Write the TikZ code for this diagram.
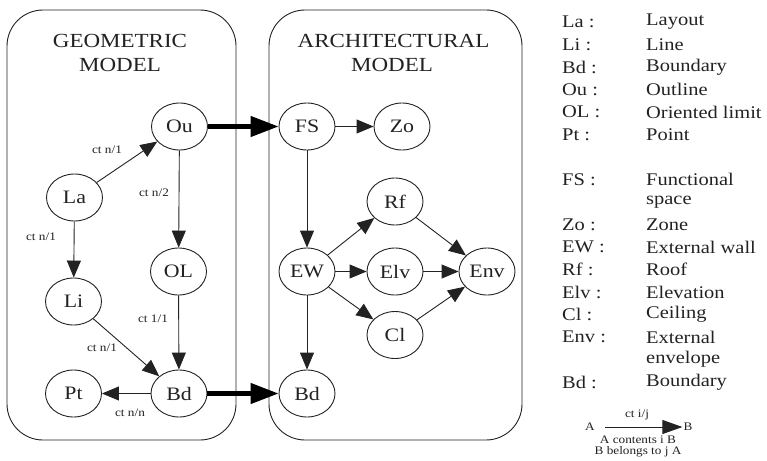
\documentclass[tikz,border=0pt]{standalone}
\usepackage{fontspec}
\setmainfont{Liberation Serif}[FakeStretch=1.15]
\usetikzlibrary{arrows.meta,shapes.geometric}
\definecolor{ink}{HTML}{222222}
\begin{document}
\begin{tikzpicture}[x=1pt,y=-1pt,
  ent/.style={ellipse,draw=ink,line width=0.9pt,minimum width=56pt,minimum height=47pt,inner sep=0pt,font=\fontsize{19}{22}\selectfont,text=ink},
  lnk/.style={draw=ink,line width=0.9pt,-{Triangle[length=17pt,width=14pt]}},
  big/.style={draw=black,line width=4.5pt,-{Triangle[length=28pt,width=20pt]}},
  smalllnk/.style={draw=ink,line width=0.9pt,-{Triangle[length=20pt,width=14pt]}},
  lbl/.style={font=\fontsize{11.5}{13}\selectfont,text=ink,inner sep=0pt},
  ttl/.style={font=\fontsize{20}{24}\selectfont,text=ink,inner sep=0pt},
  frame/.style={draw=ink,line width=0.9pt,rounded corners=36pt,inner sep=0pt},
  leg/.style={font=\fontsize{17.8}{21}\selectfont,text=ink,inner sep=0pt,anchor=west},
]
\useasboundingbox (0,0) rectangle (767,460);
% frames
\node[frame,minimum width=229pt,minimum height=430pt] (geo) at (121.5,225) {};
\node[frame,minimum width=253pt,minimum height=430pt] (arch) at (395.5,225) {};
% titles
\node[ttl] (t1) at (120,40.5) {GEOMETRIC};
\node[ttl] (t2) at (120,65) {MODEL};
\node[ttl] (t3) at (393.5,40.5) {ARCHITECTURAL};
\node[ttl] (t4) at (392,65) {MODEL};
% geometric nodes
\node[ent] (Ou) at (179.5,126.5) {Ou};
\node[ent] (La) at (74.5,197.5) {La};
\node[ent] (Li) at (73.5,301.5) {Li};
\node[ent] (OL) at (178.5,271.5) {OL};
\node[ent] (Pt) at (73.5,393.5) {Pt};
\node[ent] (BdL) at (179,393.5) {Bd};
% architectural nodes
\node[ent] (FS) at (307,126.5) {FS};
\node[ent] (Zo) at (402,126.5) {Zo};
\node[ent] (Rf) at (395,201.5) {Rf};
\node[ent] (EW) at (307,271.5) {EW};
\node[ent] (Elv) at (395,271.5) {Elv};
\node[ent] (Env) at (487,271.5) {Env};
\node[ent] (Cl) at (395,335) {Cl};
\node[ent] (BdR) at (307,393.5) {Bd};
% geometric links
\draw[lnk] (La) -- (Ou);
\draw[lnk] (Ou) -- (OL);
\draw[lnk] (La) -- (Li);
\draw[lnk] (OL) -- (BdL);
\draw[lnk] (Li) -- (BdL);
\draw[lnk] (BdL) -- (Pt);
\node[lbl] (l1) at (107,150) {ct n/1};
\node[lbl] (l2) at (154,193) {ct n/2};
\node[lbl] (l3) at (41,237) {ct n/1};
\node[lbl] (l4) at (153,319) {ct 1/1};
\node[lbl] (l5) at (102,348) {ct n/1};
\node[lbl] (l6) at (130,413) {ct n/n};
% architectural links
\draw[lnk] (FS) -- (Zo);
\draw[lnk] (FS) -- (EW);
\draw[lnk] (EW) -- (Rf);
\draw[lnk] (EW) -- (Elv);
\draw[lnk] (EW) -- (Cl);
\draw[lnk] (EW) -- (BdR);
\draw[lnk] (Rf) -- (Env);
\draw[lnk] (Elv) -- (Env);
\draw[lnk] (Cl) -- (Env);
% model links
\draw[big] (Ou) -- (FS);
\draw[big] (BdL) -- (BdR);
% legend
\foreach \k/\a/\b in {0/La :/Layout,1/Li :/Line,2/Bd :/Boundary,3/Ou :/Outline,4/OL :/Oriented limit,5/Pt :/Point,7/FS :/Functional,8//space,9/Zo :/Zone,10/EW :/External wall,11/Rf :/Roof,12/Elv :/Elevation,13/Cl :/Ceiling,14/Env :/External,15//envelope,16/Bd :/Boundary}{
  \node[leg] (ka\k) at (562,22+22.5*\k) {\a};
  \node[leg] (kb\k) at (646,22+22.5*\k) {\b};
}
\node[lbl] (sa) at (590,427) {A};
\node[lbl] (sb) at (688,427) {B};
\draw[smalllnk] (sa.east) ++(10,0) coordinate (s1) -- ([xshift=-1pt]sb.west);
\node[lbl] (sl) at (637,415) {ct i/j};
\node[lbl] (sc) at (638,439.5) {A contents i B};
\node[lbl] (sd) at (638,452) {B belongs to j A};
\end{tikzpicture}
\end{document}
